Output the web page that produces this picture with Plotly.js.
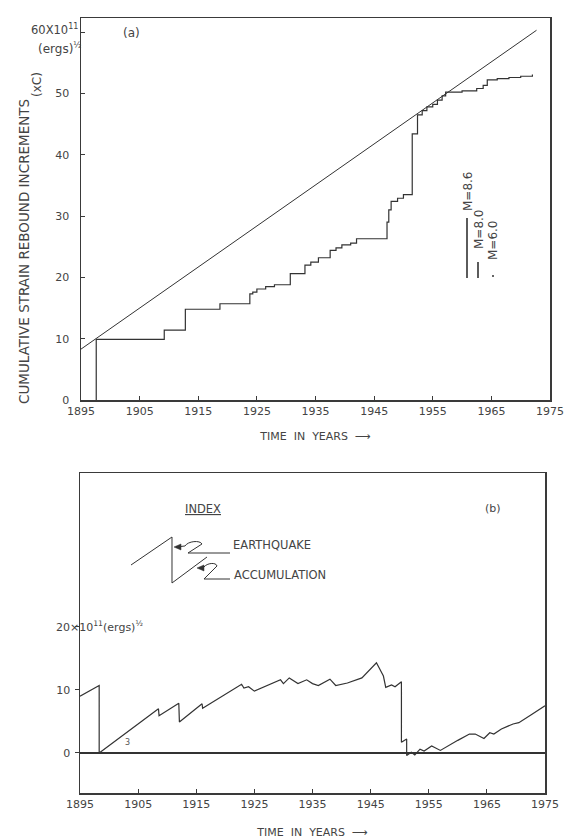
<!DOCTYPE html>
<html><head><meta charset="utf-8">
<script src="https://cdn.plot.ly/plotly-3.0.1.min.js"></script>
<style>html,body{margin:0;padding:0;background:#fff}</style>
</head><body><div id="chart" style="width:565px;height:839px"></div>
<script>
// ---------- data ----------
const yearTicks = [1895,1905,1915,1925,1935,1945,1955,1965,1975];
const yearLabels = ['1895','1905','1915','1925','1935','1945','1955','1965','1975'];

// (a) cumulative strain rebound increments (step curve)
const strainYears = [1897.6,1897.6,1909.2,1912.8,1918.7,1923.8,1924.3,1925.0,1926.5,1928.0,1930.7,1933.2,1934.2,1935.5,1937.5,1938.5,1939.5,1941.0,1942.0,1947.2,1947.5,1947.9,1949.0,1950.0,1951.5,1952.4,1953.2,1954.0,1955.0,1955.8,1956.6,1957.2,1960.0,1962.5,1963.6,1964.3,1966.0,1968.0,1970.0,1972.0];
const strainValues = [0,9.9,11.4,14.8,15.7,17.3,17.6,18.1,18.5,18.8,20.6,22.0,22.5,23.2,24.4,24.8,25.3,25.6,26.3,29.0,31.0,32.4,32.9,33.5,43.4,46.5,47.2,47.8,48.2,48.9,49.6,50.2,50.4,50.8,51.3,52.2,52.4,52.6,52.8,53.1];

// (a) accumulation trend line
const trendYears = [1895, 1972.7];
const trendValues = [8.3, 60.3];

// (b) index curve
const indexYears = [1895.0,1898.3,1898.3,1908.5,1908.6,1912.0,1912.1,1916.0,1916.1,1918.0,1922.8,1923.2,1924.0,1925.0,1927.0,1929.5,1930.0,1931.0,1932.5,1934.0,1935.0,1936.0,1938.0,1939.0,1941.0,1942.5,1943.5,1946.0,1946.8,1947.2,1947.6,1948.6,1949.2,1950.3,1950.3,1951.2,1951.2,1952.0,1952.6,1953.5,1954.2,1955.5,1957.0,1959.0,1960.0,1962.0,1963.0,1964.5,1965.5,1966.2,1967.5,1969.5,1970.5,1972.5,1975.0];
const indexValues = [9.0,10.7,0.0,7.0,5.9,7.9,4.9,7.8,7.1,8.2,10.9,10.3,10.5,9.8,10.6,11.6,11.0,11.9,11.0,11.6,11.0,10.7,11.7,10.7,11.1,11.6,11.9,14.3,12.8,12.2,10.4,10.8,10.5,11.3,1.7,2.2,-0.4,0.1,-0.3,0.6,0.3,1.1,0.4,1.5,2.0,3.0,3.0,2.3,3.2,3.0,3.8,4.6,4.8,6.0,7.5];

const topYTicks = [0,10,20,30,40,50,60];
const topYLabels = ['0','10','20','30','40','50',' '];
const botYTicks = [0,10,20];
const botYLabels = ['0','10',' '];

// ---------- layout helpers (pixel -> paper) ----------
const W = 565, H = 839;
const px = x => x / W;
const py = y => 1 - y / H;
function pth(str){
  const tok = str.trim().split(/\s+/); const out = []; let k = 0;
  for (const t of tok){
    if (/^[A-Za-z]$/.test(t)){ out.push(t); k = 0; }
    else { const v = parseFloat(t); out.push(k % 2 === 0 ? (v / W).toFixed(5) : (1 - v / H).toFixed(5)); k++; }
  }
  return out.join(' ');
}

const INK = '#333';
const FONT = 'DejaVu Sans';

const traces = [
  {x: trendYears, y: trendValues, xaxis:'x', yaxis:'y', mode:'lines', line:{color:INK, width:1}, hoverinfo:'skip'},
  {x: strainYears, y: strainValues, xaxis:'x', yaxis:'y', mode:'lines', line:{color:INK, width:1.2, shape:'hv'}, hoverinfo:'skip'},
  {x: indexYears, y: indexValues, xaxis:'x2', yaxis:'y2', mode:'lines', line:{color:INK, width:1.2}, hoverinfo:'skip'}
];

const axCommon = {showline:true, mirror:true, linecolor:'#3a3a3a', linewidth:1.5, showgrid:false, zeroline:false,
  tickcolor:'#3a3a3a', tickwidth:1, tickfont:{family:FONT, size:11, color:'#444'}};

const ann = (text, x, y, o) => Object.assign({text, x:px(x), y:py(y), xref:'paper', yref:'paper', showarrow:false,
  font:{family:FONT, size:11, color:'#444'}, xanchor:'center', yanchor:'middle'}, o || {});

const layout = {
  width: W, height: H,
  margin: {l:0, r:0, t:0, b:0},
  paper_bgcolor:'#fff', plot_bgcolor:'#fff',
  showlegend:false,
  font:{family:FONT, color:'#444'},
  xaxis: Object.assign({}, axCommon, {domain:[px(81), px(550)], range:[1895,1975], anchor:'y',
    tickvals:yearTicks, ticktext:yearLabels, ticks:'inside', ticklen:4,
    title:{text:'TIME&nbsp;&nbsp;IN&nbsp;&nbsp;YEARS&nbsp;&nbsp;⟶', font:{family:FONT, size:11, color:'#444'}, standoff:15}}),
  yaxis: Object.assign({}, axCommon, {domain:[py(400), py(18)], range:[0,62.3], anchor:'x',
    tickvals:topYTicks, ticktext:topYLabels, ticks:'inside', ticklen:4, ticklabelstandoff:8}),
  xaxis2: Object.assign({}, axCommon, {domain:[px(80), px(545)], range:[1895,1975], anchor:'y2',
    tickvals:yearTicks, ticktext:yearLabels, ticks:'inside', ticklen:4,
    title:{text:'TIME&nbsp;&nbsp;IN&nbsp;&nbsp;YEARS&nbsp;&nbsp;⟶', font:{family:FONT, size:11, color:'#444'}, standoff:19}}),
  yaxis2: Object.assign({}, axCommon, {domain:[py(793), py(473)], range:[-6.35,44.4], anchor:'x2',
    tickvals:botYTicks, ticktext:botYLabels, ticks:'outside', ticklen:4, ticklabelstandoff:2,
    zeroline:true, zerolinecolor:INK, zerolinewidth:1.2}),
  annotations: [
    ann('CUMULATIVE STRAIN REBOUND INCREMENTS', 24, 252, {textangle:-90, font:{family:FONT, size:13.5, color:'#444'}}),
    ann('(xC)', 37, 85, {textangle:-90, font:{family:FONT, size:12, color:'#444'}}),
    ann('60X10<sup>11</sup>', 80, 30, {xanchor:'right', font:{family:FONT, size:11.5, color:'#444'}}),
    ann('(ergs)<sup>½</sup>', 83, 48, {xanchor:'right', font:{family:FONT, size:12, color:'#444'}}),
    ann('(a)', 131, 33, {font:{family:FONT, size:12, color:'#444'}}),
    ann('M=8.6', 468, 191, {textangle:-90, font:{family:FONT, size:12, color:'#444'}}),
    ann('M=8.0', 479, 229, {textangle:-90, font:{family:FONT, size:12, color:'#444'}}),
    ann('M=6.0', 493, 240, {textangle:-90, font:{family:FONT, size:12, color:'#444'}}),
    ann('<u>INDEX</u>', 203, 509, {font:{family:FONT, size:11.5, color:'#444'}}),
    ann('(b)', 493, 508),
    ann('EARTHQUAKE', 231, 545, {xanchor:'left', font:{family:FONT, size:11.5, color:'#444'}}),
    ann('ACCUMULATION', 232, 575, {xanchor:'left', font:{family:FONT, size:11.5, color:'#444'}}),
    ann('20×10<sup>11</sup>(ergs)<sup>½</sup>', 54, 626, {xanchor:'left'}),
    ann('3', 127, 742, {font:{family:FONT, size:8, color:'#555'}})
  ],
  shapes: [
    // legend marks in (a)
    {type:'line', xref:'paper', yref:'paper', x0:px(467), x1:px(467), y0:py(218), y1:py(278), line:{color:INK, width:1.6}},
    {type:'line', xref:'paper', yref:'paper', x0:px(478), x1:px(478), y0:py(262), y1:py(278), line:{color:INK, width:1.6}},
    {type:'circle', xref:'paper', yref:'paper', x0:px(492), x1:px(494), y0:py(275), y1:py(277), fillcolor:INK, line:{width:0}},
    // index sketch in (b)
    {type:'path', xref:'paper', yref:'paper', path:pth('M 131 565 L 172 537 L 172 583 L 207 557'), line:{color:INK, width:1}},
    {type:'path', xref:'paper', yref:'paper', path:pth('M 176 547 L 185 546 C 188 541 200 540 202 544 L 188 553 L 230 553'), line:{color:INK, width:1}},
    {type:'path', xref:'paper', yref:'paper', path:pth('M 174 547 L 181 544 L 181 550 Z'), fillcolor:INK, line:{color:INK, width:0.5}},
    {type:'path', xref:'paper', yref:'paper', path:pth('M 199 568 L 204 567 C 207 563 216 562 217 566 L 204 579 L 230 579'), line:{color:INK, width:1}},
    {type:'path', xref:'paper', yref:'paper', path:pth('M 197 568 L 204 565 L 204 571 Z'), fillcolor:INK, line:{color:INK, width:0.5}}
  ]
};

Plotly.newPlot('chart', traces, layout, {displayModeBar:false, staticPlot:true});
</script>
</body></html>
